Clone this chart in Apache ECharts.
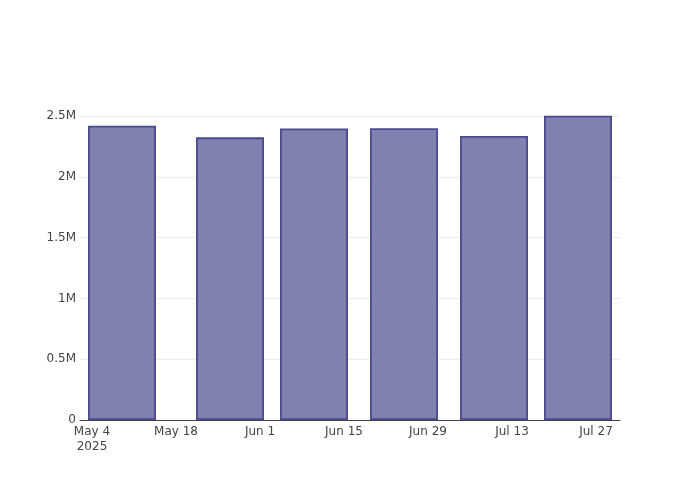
<!DOCTYPE html>
<html>
<head>
<meta charset="utf-8">
<script src="https://cdn.jsdelivr.net/npm/echarts@6/dist/echarts.min.js"></script>
<style>html,body{margin:0;padding:0;background:#fff;}#c{width:700px;height:500px;}</style>
</head>
<body>
<div id="c"></div>
<script>
const dates = ['2025-05-09', '2025-05-27', '2025-06-10', '2025-06-25', '2025-07-10', '2025-07-24'];
const values = [2420000, 2325000, 2398000, 2400000, 2336000, 2503000];
const xTicks = ['2025-05-04', '2025-05-18', '2025-06-01', '2025-06-15', '2025-06-29', '2025-07-13', '2025-07-27'];
const xRange = ['2025-05-02', '2025-07-31'];
const yTicks = [0, 500000, 1000000, 1500000, 2000000, 2500000];
const yMax = 2632000;

const ts = s => { const [y, m, d] = s.split('-').map(Number); return Date.UTC(y, m - 1, d); };
const months = ['Jan','Feb','Mar','Apr','May','Jun','Jul','Aug','Sep','Oct','Nov','Dec'];
const FONT = 'DejaVu Sans';

const chart = echarts.init(document.getElementById('c'));
chart.setOption({
  animation: false,
  grid: { left: 80, right: 80, top: 100, bottom: 80 },
  xAxis: {
    type: 'value',
    min: ts(xRange[0]),
    max: ts(xRange[1]),
    axisLine: { show: true, lineStyle: { color: '#444', width: 1 } },
    axisTick: { show: false, customValues: xTicks.map(ts) },
    splitLine: { show: false },
    axisLabel: {
      customValues: xTicks.map(ts),
      showMinLabel: true,
      showMaxLabel: true,
      color: '#444',
      fontFamily: FONT,
      fontSize: 12,
      margin: 4,
      lineHeight: 15,
      formatter: function (v) {
        const d = new Date(v);
        let s = months[d.getUTCMonth()] + ' ' + d.getUTCDate();
        if (v === ts(xTicks[0])) s += '\n' + d.getUTCFullYear();
        return s;
      }
    }
  },
  yAxis: {
    type: 'value',
    min: 0,
    max: yMax,
    axisLine: { show: false },
    axisTick: { show: false, customValues: yTicks },
    splitLine: { show: true, lineStyle: { color: '#eeeeee', width: 1 } },
    axisLabel: {
      customValues: yTicks,
      color: '#444',
      fontFamily: FONT,
      fontSize: 12,
      margin: 4,
      formatter: function (v) {
        if (v === 0) return '0';
        return (v / 1e6) + 'M';
      }
    }
  },
  series: [{
    type: 'bar',
    data: dates.map((d, i) => [ts(d), values[i]]),
    barWidth: 68,
    itemStyle: {
      color: '#8080b1',
      borderColor: '#4a4a8e',
      borderWidth: 1.8
    }
  }]
});
</script>
</body>
</html>
